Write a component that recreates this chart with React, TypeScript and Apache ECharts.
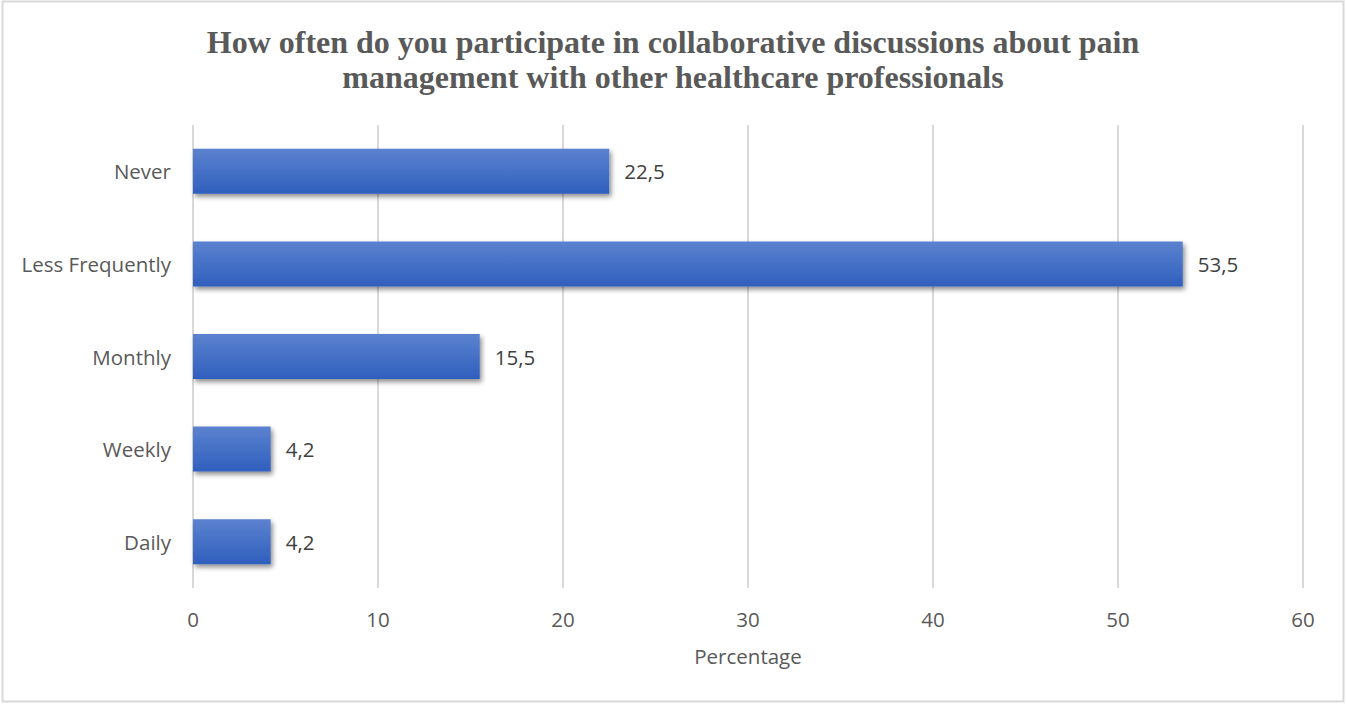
import React, { useEffect, useRef } from "react";
import * as echarts from "echarts";

const categories = ["Daily", "Weekly", "Monthly", "Less Frequently", "Never"];
const values = [4.2, 4.2, 15.5, 53.5, 22.5];
const xTicks = [0, 10, 20, 30, 40, 50, 60];
const titleText =
  "How often do you participate in collaborative discussions about pain\nmanagement with other healthcare professionals";
const xAxisName = "Percentage";

const FONT = "Open Sans";
const FS = 20.5;

export default function App() {
  const ref = useRef<HTMLDivElement>(null);
  useEffect(() => {
    if (!ref.current) return;
    const chart = echarts.init(ref.current, null, { renderer: "svg" });
    chart.setOption({
      animation: false,
      backgroundColor: "#ffffff",
      title: {
        text: titleText,
        left: "center",
        top: 19,
        textStyle: {
          fontFamily: "Liberation Serif",
          fontWeight: "bold",
          fontSize: 32,
          lineHeight: 35,
          color: "#595959",
        },
      },
      graphic: [
        {
          type: "rect",
          shape: { x: 2.5, y: 1.5, width: 1341, height: 700 },
          style: { fill: "none", stroke: "#d9d9d9", lineWidth: 2 },
          silent: true,
        },
      ],
      grid: { left: 193, right: 43, top: 125, bottom: 116, containLabel: false },
      xAxis: {
        type: "value",
        min: xTicks[0],
        max: xTicks[xTicks.length - 1],
        interval: 10,
        name: xAxisName,
        nameLocation: "middle",
        nameGap: 57,
        nameTextStyle: { fontFamily: FONT, fontSize: FS, color: "#595959" },
        axisLine: { show: false },
        axisTick: { show: false },
        axisLabel: { fontFamily: FONT, fontSize: FS, color: "#595959", margin: 20 },
        splitLine: { show: true, lineStyle: { color: "#d9d9d9", width: 2 } },
      },
      yAxis: {
        type: "category",
        data: categories,
        axisLine: { show: false },
        axisTick: { show: false },
        axisLabel: { fontFamily: FONT, fontSize: FS, color: "#595959", margin: 22 },
      },
      series: [
        {
          type: "bar",
          data: values,
          barWidth: 45,
          itemStyle: {
            color: new echarts.graphic.LinearGradient(0, 0, 0, 1, [
              { offset: 0, color: "#5b82cf" },
              { offset: 1, color: "#2f5fbd" },
            ]),
            shadowColor: "rgba(0,0,0,0.45)",
            shadowBlur: 5,
            shadowOffsetX: 2,
            shadowOffsetY: 3,
          },
          label: {
            show: true,
            position: "right",
            distance: 15,
            fontFamily: FONT,
            fontSize: FS,
            color: "#404040",
            formatter: (p: any) => String(p.value).replace(".", ","),
          },
        },
      ],
    });
    return () => chart.dispose();
  }, []);
  return (
    <div
      ref={ref}
      style={{ position: "fixed", left: 0, top: 0, width: 1346, height: 704 }}
    />
  );
}
